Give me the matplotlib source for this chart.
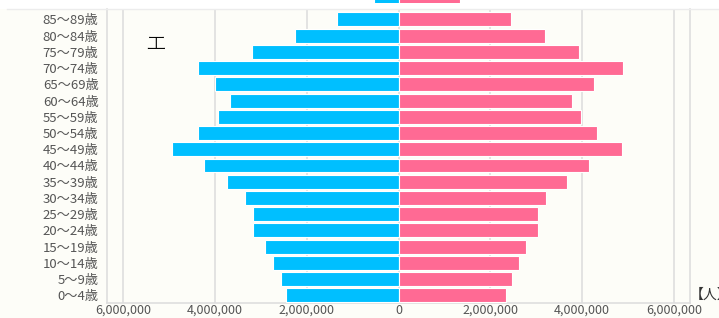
import matplotlib.pyplot as plt
from matplotlib.patches import Rectangle
from matplotlib.lines import Line2D
from matplotlib.ticker import FuncFormatter

plt.rcParams['font.family'] = ['Noto Sans CJK JP', 'DejaVu Sans']

ages = ['0～4歳', '5～9歳', '10～14歳', '15～19歳', '20～24歳', '25～29歳',
        '30～34歳', '35～39歳', '40～44歳', '45～49歳', '50～54歳', '55～59歳',
        '60～64歳', '65～69歳', '70～74歳', '75～79歳', '80～84歳', '85～89歳',
        '90～94歳']
male = [2440000, 2570000, 2730000, 2900000, 3170000, 3170000, 3340000,
        3740000, 4240000, 4940000, 4360000, 3940000, 3660000, 3990000,
        4360000, 3190000, 2250000, 1340000, 540000]
female = [2350000, 2470000, 2620000, 2780000, 3030000, 3030000, 3220000,
          3660000, 4160000, 4860000, 4330000, 3970000, 3780000, 4260000,
          4890000, 3940000, 3190000, 2440000, 1350000]
xticks = [-6000000, -4000000, -2000000, 0, 2000000, 4000000, 6000000]

blue = '#00bfff'
pink = '#ff6a94'
bg = '#fdfdf8'
W, H = 719, 318

fig = plt.figure(figsize=(W / 100, H / 100), dpi=100, facecolor=bg)
left, right, top, bottom = 107, 690, 9, 303
ax = fig.add_axes([left / W, 1 - bottom / H, (right - left) / W, (bottom - top) / H])
ax.set_facecolor(bg)

n = len(ages) - 1
ypos = list(range(n))
ax.barh(ypos, [-v for v in male[:n]], height=0.86, color=blue, edgecolor='white', linewidth=0.8, zorder=3)
ax.barh(ypos, female[:n], height=0.86, color=pink, edgecolor='white', linewidth=0.8, zorder=3)

ax.set_xlim(-6350000, 6350000)
ax.set_ylim(-0.47, n - 1 + 0.64)
ax.set_yticks(ypos)
ax.set_yticklabels(ages[:n])
ax.set_xticks(xticks)
ax.xaxis.set_major_formatter(FuncFormatter(lambda v, p: f'{abs(int(v)):,}'))
ax.tick_params(length=0, colors='#555555')
ax.tick_params(axis='y', labelsize=9.5, pad=6)
ax.tick_params(axis='x', labelsize=9, pad=0.5)
ax.grid(axis='x', color='#dedede', linewidth=1.2, zorder=0)
for s in ['left', 'right', 'bottom']:
    ax.spines[s].set_color('#dedede')
    ax.spines[s].set_linewidth(1.2)
ax.spines['top'].set_visible(False)

# sliver of the 90～94 row peeking above the plot
ax2 = fig.add_axes([left / W, 1 - 3 / H, (right - left) / W, 3 / H], sharex=ax)
ax2.barh([n], [-male[n]], height=0.86, color=blue, edgecolor='white', linewidth=0.8)
ax2.barh([n], [female[n]], height=0.86, color=pink, edgecolor='white', linewidth=0.8)
ax2.set_ylim(n - 0.4, n - 0.3)
ax2.axis('off')

# white header band
fig.add_artist(Rectangle((0, 1 - 9 / H), 1, 9 / H, transform=fig.transFigure,
                         facecolor='white', edgecolor='none', zorder=-1))
fig.add_artist(Line2D([7 / W, 1], [1 - 9 / H, 1 - 9 / H], transform=fig.transFigure,
                      color='#ececec', linewidth=1))

fig.text(156 / W, 1 - 44 / H, 'エ', fontsize=15, fontweight='light', color='black',
         ha='center', va='center')
fig.text(690 / W, 1 - 295 / H, '【人】', fontsize=10, color='#333333', ha='left', va='center')

fig.savefig('out.png', dpi=100, facecolor=fig.get_facecolor())
